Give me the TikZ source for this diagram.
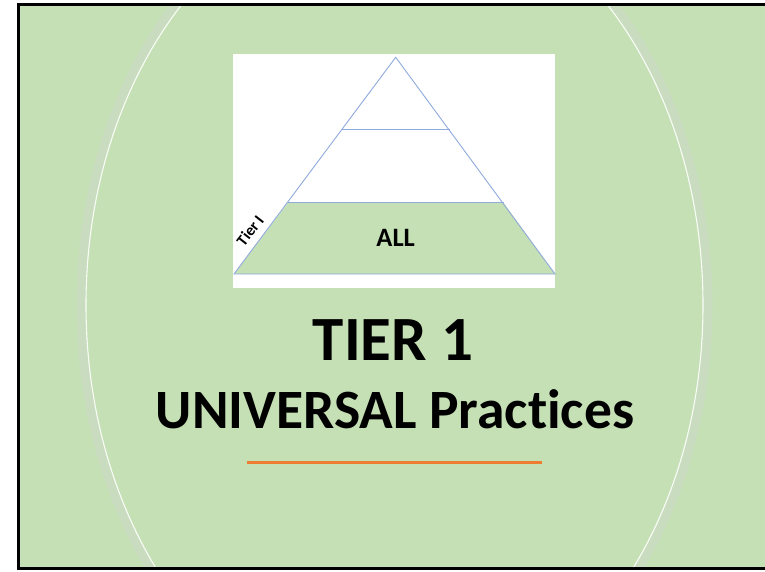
\documentclass[tikz,border=0pt]{standalone}
\usepackage{fontspec}
\setmainfont[Ligatures=NoCommon]{Carlito}
\definecolor{slidegreen}{HTML}{C5E0B4}
\definecolor{arcshade}{HTML}{CBDCC2}
\definecolor{pyrline}{HTML}{8FAADC}
\definecolor{accent}{HTML}{ED7D31}
\tikzset{
  pyredge/.style={draw=pyrline, line width=0.9pt},
  bigtitle/.style={font=\bfseries\fontsize{63}{63}\selectfont, anchor=base},
  subtitle/.style={font=\bfseries\fontsize{55.5}{55.5}\selectfont, anchor=base},
}
\begin{document}
\begin{tikzpicture}[x=1pt, y=-1pt]
\useasboundingbox (0,0) rectangle (765,571);
\fill[white] (0,0) rectangle (765,571);
% slide background
\fill[slidegreen] (18.7,4.5) rectangle (765,568.7);
\begin{scope}
  \clip (18.7,4.5) rectangle (765,568.7);
  \draw[arcshade, line width=9pt, opacity=0.8] (394.5,305) ellipse [x radius=313.5, y radius=420];
  \draw[white, line width=1.1pt, opacity=0.9] (394.5,305) ellipse [x radius=308.5, y radius=415];
\end{scope}
\draw[black, line width=2.7pt] (765,4.5) -- (18.7,4.5) -- (18.7,568.7) -- (765,568.7);
% pyramid picture
\fill[white] (233,54) rectangle (555,288);
\coordinate (apex) at (395.7,57.3);
\coordinate (bl) at (234,274);
\coordinate (br) at (555,274);
\coordinate (m1l) at (342,129.3);
\coordinate (m1r) at (449.5,129.3);
\coordinate (m2l) at (288,202.7);
\coordinate (m2r) at (503.5,202.7);
\fill[slidegreen] (m2l) -- (m2r) -- (br) -- (bl) -- cycle;
\draw[pyredge] (bl) -- (apex) -- (br) -- cycle;
\draw[pyredge] (m1l) -- (m1r);
\draw[pyredge] (m2l) -- (m2r);
\node[font=\bfseries\fontsize{26.5}{26.5}\selectfont, anchor=base] (all) at (395.7,246.7) {ALL};
\node[font=\bfseries\fontsize{16}{16}\selectfont, rotate=52, inner sep=0pt] (tier) at (250,230.5) {Tier I};
% titles
\node[bigtitle] (t1) at (393,360.7) {TIER 1};
\node[subtitle] (t2) at (395,428.5) {UNIVERSAL Practices};
\coordinate (la) at (246.7,462.3);
\coordinate (lb) at (541.7,462.3);
\draw[accent, line width=2.6pt] (la) -- (lb);
\end{tikzpicture}
\end{document}
